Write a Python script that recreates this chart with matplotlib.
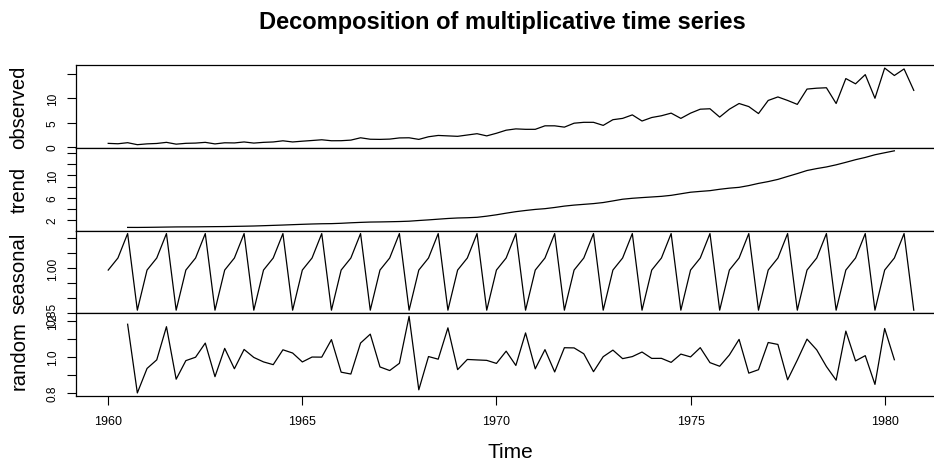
import numpy as np
import matplotlib
matplotlib.use("Agg")
import matplotlib.pyplot as plt

plt.rcParams['font.family'] = ['Liberation Sans', 'DejaVu Sans']

# quarterly earnings per share, 1960 Q1 .. 1980 Q4
start_year = 1960
freq = 4
earnings = [
    0.71, 0.63, 0.85, 0.44,
    0.61, 0.69, 0.92, 0.55,
    0.72, 0.77, 0.92, 0.60,
    0.83, 0.80, 1.00, 0.77,
    0.92, 1.00, 1.24, 1.00,
    1.16, 1.30, 1.45, 1.25,
    1.26, 1.38, 1.86, 1.56,
    1.53, 1.59, 1.83, 1.86,
    1.53, 2.07, 2.34, 2.25,
    2.16, 2.43, 2.70, 2.25,
    2.79, 3.42, 3.69, 3.60,
    3.60, 4.32, 4.32, 4.05,
    4.86, 5.04, 5.04, 4.41,
    5.58, 5.85, 6.57, 5.31,
    6.03, 6.39, 6.93, 5.85,
    6.93, 7.74, 7.83, 6.12,
    7.74, 8.91, 8.28, 6.84,
    9.54, 10.26, 9.54, 8.73,
    11.88, 12.06, 12.15, 8.91,
    14.04, 12.96, 14.85, 9.99,
    16.20, 14.67, 16.02, 11.61,
]

panel_names = ['observed', 'trend', 'seasonal', 'random']
year_ticks = [1960, 1965, 1970, 1975, 1980]
y_ticks = {
    'observed': ([0, 5, 10, 15], ['0', '5', '10', '']),
    'trend': ([2, 4, 6, 8, 10, 12, 14], ['2', '', '6', '', '10', '', '']),
    'seasonal': ([0.85, 0.90, 0.95, 1.00, 1.05, 1.10], ['0.85', '', '', '1.00', '', '']),
    'random': ([0.8, 0.9, 1.0, 1.1, 1.2], ['0.8', '', '1.0', '', '1.2']),
}


def decompose(x, f):
    # classical multiplicative decomposition with a centred 2x4 moving average
    x = np.asarray(x, dtype=float)
    n = len(x)
    filt = np.r_[0.5, np.ones(f - 1), 0.5] / f
    half = f // 2
    trend = np.full(n, np.nan)
    for i in range(half, n - half):
        trend[i] = np.dot(filt, x[i - half:i + half + 1])
    ratio = x / trend
    periods = np.array([np.nanmean(ratio[k::f]) for k in range(f)])
    figure = periods / periods.mean()
    seasonal = np.tile(figure, n // f + 1)[:n]
    random = x / (seasonal * trend)
    return x, trend, seasonal, random


series = dict(zip(panel_names, decompose(earnings, freq)))
time = start_year + np.arange(len(earnings)) / freq

W, H = 934, 464
fig = plt.figure(figsize=(W / 100, H / 100), dpi=100)

# panel box in pixels; the right edge runs past the canvas
left_px, right_px = 76, 946
top_px, bottom_px = 66, 397
ph = (bottom_px - top_px) / 4
aw = right_px - left_px

t_lo, t_hi = time.min(), time.max()
pad = 0.04 * (t_hi - t_lo)

for k, name in enumerate(panel_names):
    ax = fig.add_axes([left_px / W, 1 - (top_px + (k + 1) * ph) / H,
                       aw / W, ph / H])
    y = series[name]
    ax.plot(time, y, color='black', lw=0.9)
    lo, hi = np.nanmin(y), np.nanmax(y)
    ax.set_ylim(lo - 0.04 * (hi - lo), hi + 0.04 * (hi - lo))
    ax.set_xlim(t_lo - pad, t_hi + pad)
    ticks, labels = y_ticks[name]
    ax.set_yticks(ticks)
    ax.set_yticklabels(labels, rotation=90, va='center', fontsize=8.6)
    ax.tick_params(axis='y', direction='out', length=6.5, width=0.8, pad=6)
    for s in ax.spines.values():
        s.set_linewidth(0.9)
    ax.text(-(left_px - 19) / aw, 0.5, name, transform=ax.transAxes,
            rotation=90, ha='center', va='center', fontsize=14.6)
    if k < 3:
        ax.set_xticks([])
    else:
        ax.set_xticks(year_ticks)
        ax.set_xticklabels([str(v) for v in year_ticks], fontsize=9)
        ax.tick_params(axis='x', direction='out', length=6.5, width=0.8, pad=7)
        ax.text((510 - left_px) / aw, -(453 - bottom_px) / ph, 'Time',
                transform=ax.transAxes, ha='center', va='center', fontsize=15)

fig.text(502.5 / W, 1 - 23 / H, 'Decomposition of multiplicative time series',
         ha='center', va='center', fontsize=17, fontweight='bold')

fig.savefig('out.png', dpi=100)
